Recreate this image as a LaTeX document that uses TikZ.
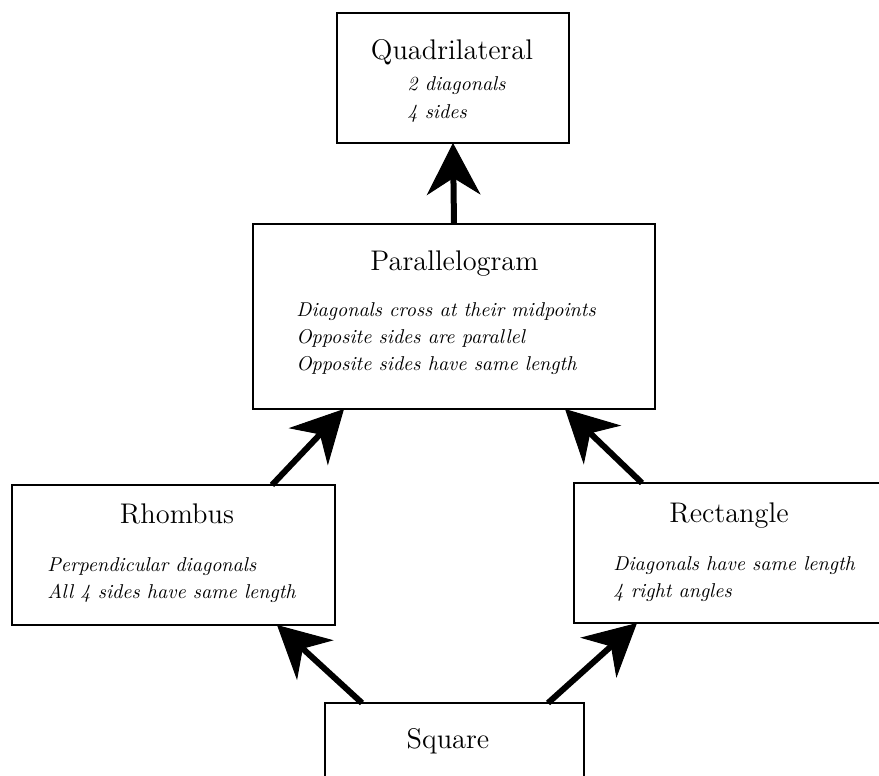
\documentclass[tikz,border=0pt]{standalone}
\usetikzlibrary{arrows.meta}

\begin{document}
\begin{tikzpicture}[x=0.5pt,y=-0.5pt,
  box/.style={draw,line width=0.8pt,inner sep=0,outer sep=0},
  title/.style={anchor=base,font=\fontsize{14.2}{16}\selectfont},
  facts/.style={anchor=base west,align=left,inner sep=0,font=\fontsize{10}{13.5}\selectfont\itshape},
  arr/.style={line width=3pt,-{Stealth[length=26pt,width=27pt,inset=8.5pt,line width=0.5pt]}}]
\useasboundingbox (0,0) rectangle (879,776);
\clip (0,0) rectangle (879,776);
% boxes
\node[box,minimum width=116pt,minimum height=65pt] (quad) at (453,78) {};
\node[box,minimum width=201pt,minimum height=92.5pt] (par) at (454,316.5) {};
\node[box,minimum width=161.5pt,minimum height=70pt] (rho) at (173.5,555) {};
\node[box,minimum width=161.5pt,minimum height=70pt] (rect) at (735.5,553) {};
\node[box,minimum width=129.5pt,minimum height=70pt] (sq) at (454.5,773) {};
% texts (facts are placed by their last line)
\node[title] (quadT) at (452,60) {Quadrilateral};
\node[facts] (quadF) at (407,118) {2 diagonals\\4 sides};
\node[title] (parT) at (454.5,270) {Parallelogram};
\node[facts] (parF) at (296,370) {Diagonals cross at their midpoints\\Opposite sides are parallel\\Opposite sides have same length};
\node[title] (rhoT) at (177,523) {Rhombus};
\node[facts] (rhoF) at (47,598) {Perpendicular diagonals\\All 4 sides have same length};
\node[title] (rectT) at (729,522) {Rectangle};
\node[facts] (rectF) at (613,597) {Diagonals have same length\\4 right angles};
\node[title] (sqT) at (448,748) {Square};
% arrows
\draw[arr] (par.north) -- (quad.south);
\draw[arr] ([xshift=-31.5pt]rho.north east) -- ([xshift=45.5pt]par.south west);
\draw[arr] ([xshift=34pt]rect.north west) -- ([xshift=-45pt]par.south east);
\draw[arr] ([xshift=18.5pt]sq.north west) -- ([xshift=-29pt]rho.south east);
\draw[arr] ([xshift=-18pt]sq.north east) -- ([xshift=31.5pt]rect.south west);
\end{tikzpicture}
\end{document}
